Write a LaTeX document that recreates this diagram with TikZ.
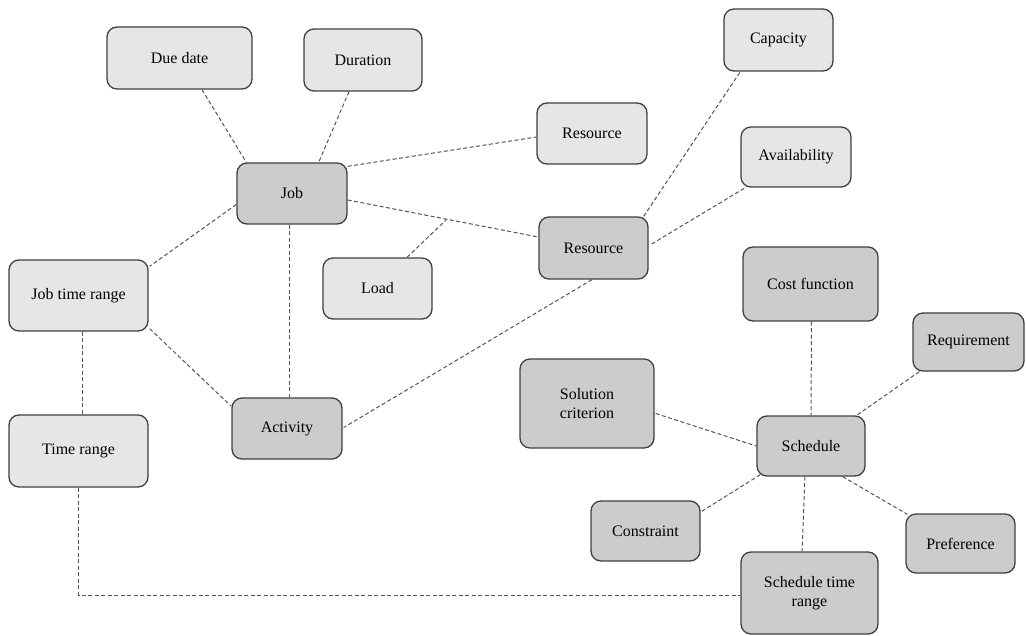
\documentclass[tikz,border=0pt]{standalone}
\usepackage{fontspec}
\setmainfont{Liberation Serif}
\usetikzlibrary{calc}
\definecolor{boxlight}{HTML}{E6E6E6}
\definecolor{boxdark}{HTML}{CCCCCC}
\definecolor{edgeline}{HTML}{404040}
\definecolor{linkline}{HTML}{555555}
\begin{document}
\begin{tikzpicture}[x=1pt,y=-1pt,
  box/.style={draw=edgeline, line width=1.3pt, rounded corners=10pt,
    align=center, inner sep=0pt, font=\fontsize{16}{19}\selectfont},
  light/.style={box, fill=boxlight},
  dark/.style={box, fill=boxdark},
  link/.style={draw=linkline, line width=1pt, dash pattern=on 4pt off 2.5pt}]
\useasboundingbox (0,0) rectangle (1026,636);
\fill[white] (0,0) rectangle (1026,636);

% light boxes
\node[light, minimum width=145pt, minimum height=62pt] (due)   at (179.5,58)  {Due date};
\node[light, minimum width=118pt, minimum height=62pt] (dur)   at (363,60)    {Duration};
\node[light, minimum width=109pt, minimum height=62pt] (cap)   at (778.5,40)  {Capacity};
\node[light, minimum width=110pt, minimum height=61pt] (resl)  at (592,133.5) {Resource};
\node[light, minimum width=110pt, minimum height=60pt] (avail) at (796,157)   {Availability};
\node[light, minimum width=109pt, minimum height=61pt] (load)  at (377.5,288.5) {Load};
\node[light, minimum width=139pt, minimum height=71pt] (jtr)   at (78.5,295.5) {Job time range};
\node[light, minimum width=139pt, minimum height=72pt] (tr)    at (78.5,451)  {Time range};

% dark boxes
\node[dark, minimum width=110pt, minimum height=61pt] (job)   at (292,193.5) {Job};
\node[dark, minimum width=109pt, minimum height=62pt] (resd)  at (593.5,248) {Resource};
\node[dark, minimum width=110pt, minimum height=61pt] (act)   at (287,428.5) {Activity};
\node[dark, minimum width=135pt, minimum height=74pt] (cost)  at (810.5,284) {Cost function};
\node[dark, minimum width=111pt, minimum height=58pt] (req)   at (968.5,342) {Requirement};
\node[dark, minimum width=134pt, minimum height=89pt] (sol)   at (587,403.5) {Solution\\criterion};
\node[dark, minimum width=108pt, minimum height=60pt] (sched) at (811,446)   {Schedule};
\node[dark, minimum width=109pt, minimum height=60pt] (con)   at (645.5,531) {Constraint};
\node[dark, minimum width=109pt, minimum height=59pt] (pref)  at (960.5,543.5) {Preference};
\node[dark, minimum width=137pt, minimum height=82pt] (str)   at (809.5,593) {Schedule time\\range};

% connectors around the job
\draw[link] ($(due.south)+(22.5,0)$) -- ($(job.north west)+(10,0)$);
\draw[link] ($(dur.south)+(-14,0)$) -- ($(job.north east)+(-29,0)$);
\draw[link] ($(job.north east)+(0,4)$) -- ($(resl.west)+(0,3.5)$);
\draw[link] ($(job.east)+(0,6.5)$) -- coordinate[pos=0.52] (loadjoin) ($(resd.west)+(0,-11)$);
\draw[link] ($(load.north)+(29.5,0)$) -- (loadjoin);
\draw[link] ($(job.west)+(0,11)$) -- ($(jtr.north east)+(1,7)$);
\draw[link] ($(job.south)+(-3,0)$) -- ($(act.north)+(2,0)$);

% time ranges and activity
\draw[link] ($(jtr.south east)+(1,-3)$) -- ($(act.north west)+(0,9)$);
\draw[link] ($(jtr.south)+(4,0)$) -- ($(tr.north)+(4,0)$);
\draw[link] ($(resd.south)+(-1.5,0)$) -- ($(act.east)+(1,-1)$);

% resource attributes
\draw[link] ($(resd.north east)+(-5,0)$) -- ($(cap.south west)+(17,0)$);
\draw[link] ($(resd.east)+(3,-4)$) -- ($(avail.south west)+(5,0)$);

% schedule
\draw[link] ($(cost.south)+(1,0)$) -- (sched.north);
\draw[link] ($(req.south west)+(7,0)$) -- ($(sched.north east)+(-9,0)$);
\draw[link] ($(sol.east)+(1,10)$) -- (sched.west);
\draw[link] ($(sched.south west)+(4,-2)$) -- ($(con.north east)+(1,11)$);
\draw[link] ($(sched.south east)+(-23,0)$) -- ($(pref.north west)+(2,1)$);
\draw[link] ($(sched.south)+(-6,0)$) -- ($(str.north)+(-7.5,0)$);
\draw[link] (tr.south) |- ($(str.west)+(0,2)$);
\end{tikzpicture}
\end{document}
